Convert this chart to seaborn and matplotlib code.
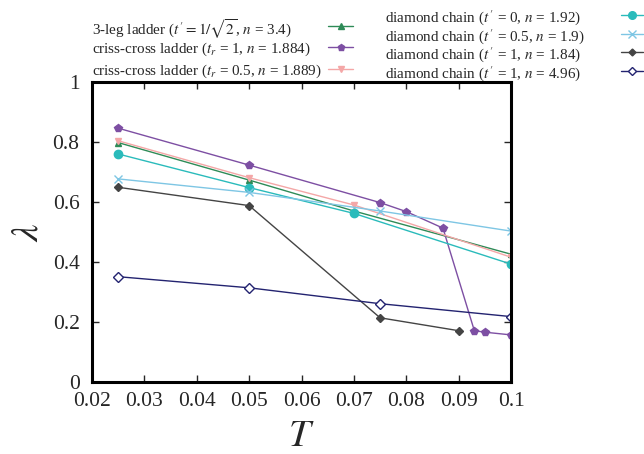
import matplotlib
matplotlib.use("Agg")
import matplotlib.pyplot as plt
from matplotlib.lines import Line2D
from matplotlib.ticker import FuncFormatter
import seaborn as sns
import pandas as pd

sns.set_style("ticks")
plt.rcParams["font.family"] = ["Liberation Serif", "DejaVu Serif"]
plt.rcParams["mathtext.fontset"] = "stix"

# temperature grids and correlation exponents per system
T_leg3 = [0.025, 0.05, 0.07, 0.1]
lam_leg3 = [0.798, 0.673, 0.57, 0.426]

T_cc1 = [0.025, 0.05, 0.075, 0.08, 0.087, 0.093, 0.095, 0.1]
lam_cc1 = [0.846, 0.723, 0.598, 0.568, 0.513, 0.171, 0.166, 0.157]

T_cc05 = [0.025, 0.05, 0.07, 0.1]
lam_cc05 = [0.804, 0.681, 0.59, 0.416]

T_d0 = [0.025, 0.05, 0.07, 0.1]
lam_d0 = [0.76, 0.648, 0.562, 0.393]

T_d05 = [0.025, 0.05, 0.075, 0.1]
lam_d05 = [0.677, 0.632, 0.57, 0.503]

T_d1a = [0.025, 0.05, 0.075, 0.09]
lam_d1a = [0.649, 0.588, 0.214, 0.171]

T_d1b = [0.025, 0.05, 0.075, 0.1]
lam_d1b = [0.351, 0.314, 0.261, 0.218]

labels = [
    r"3-leg ladder ($t\,' = 1/\sqrt{2}$, $n$ = 3.4)",
    r"criss-cross ladder ($t_r$ = 1, $n$ = 1.884)",
    r"criss-cross ladder ($t_r$ = 0.5, $n$ = 1.889)",
    r"diamond chain ($t\,'$ = 0, $n$ = 1.92)",
    r"diamond chain ($t\,'$ = 0.5, $n$ = 1.9)",
    r"diamond chain ($t\,'$ = 1, $n$ = 1.84)",
    r"diamond chain ($t\,'$ = 1, $n$ = 4.96)",
]

series = [
    (T_leg3, lam_leg3, "#2e8b57", "^", 4.5, "full"),
    (T_cc1, lam_cc1, "#7d4fa3", "p", 5.5, "full"),
    (T_cc05, lam_cc05, "#f4a7a7", "v", 5, "full"),
    (T_d0, lam_d0, "#2abbbb", "o", 6, "full"),
    (T_d05, lam_d05, "#7ec6e4", "x", 6, "full"),
    (T_d1a, lam_d1a, "#444444", "D", 4, "full"),
    (T_d1b, lam_d1b, "#232370", "D", 5, "none"),
]

fig = plt.figure(figsize=(6.44, 4.54), dpi=100)
ax = fig.add_axes([0.1429, 0.1586, 0.6506, 0.6608])

for (t, lam, col, mk, ms, fill), lab in zip(series, labels):
    df = pd.DataFrame({"T": t, "lam": lam})
    sns.lineplot(data=df, x="T", y="lam", ax=ax, color=col, marker=mk,
                 markersize=ms, markeredgecolor=col,
                 markerfacecolor=(col if fill == "full" else "white"),
                 markeredgewidth=1.0, linewidth=1.0, legend=False)

ax.set_xlim(0.02, 0.1)
ax.set_ylim(0, 1)
ax.set_xticks([0.02, 0.03, 0.04, 0.05, 0.06, 0.07, 0.08, 0.09, 0.1])
ax.set_yticks([0, 0.2, 0.4, 0.6, 0.8, 1.0])
fmt = FuncFormatter(lambda v, p: f"{v:g}")
ax.xaxis.set_major_formatter(fmt)
ax.yaxis.set_major_formatter(fmt)
ax.tick_params(direction="in", top=True, right=True, length=5, width=1,
               labelsize=15.5)
ax.tick_params(axis="x", pad=7)
ax.tick_params(axis="y", pad=9)
for s in ax.spines.values():
    s.set_linewidth(2.2)
    s.set_color("black")

ax.set_xlabel(r"$T$", fontsize=28, labelpad=5)
ax.set_ylabel(r"$\lambda$", fontsize=28, labelpad=4, rotation=90)

# two-column key above the axes: text left, line sample right
W, H = 644.0, 454.0
cols = [
    dict(idx=[0, 1, 2], tx=92, lx=(328, 353), ys=[26, 47, 69]),
    dict(idx=[3, 4, 5, 6], tx=385, lx=(621, 643), ys=[15, 34, 52, 71]),
]
for c in cols:
    for i, yp in zip(c["idx"], c["ys"]):
        t, lam, col, mk, ms, fill = series[i]
        fy = 1 - yp / H
        fig.text(c["tx"] / W, fy, labels[i], fontsize=10.9,
                 ha="left", va="center_baseline")
        x1, x2 = c["lx"][0] / W, c["lx"][1] / W
        fig.add_artist(Line2D([x1, (x1 + x2) / 2, x2], [fy, fy, fy],
                              transform=fig.transFigure, color=col, lw=1.0,
                              marker=mk, markevery=[1], markersize=ms - 0.5,
                              markeredgecolor=col, markeredgewidth=1.0,
                              markerfacecolor=(col if fill == "full" else "white")))

fig.savefig("out.png", dpi=100)
